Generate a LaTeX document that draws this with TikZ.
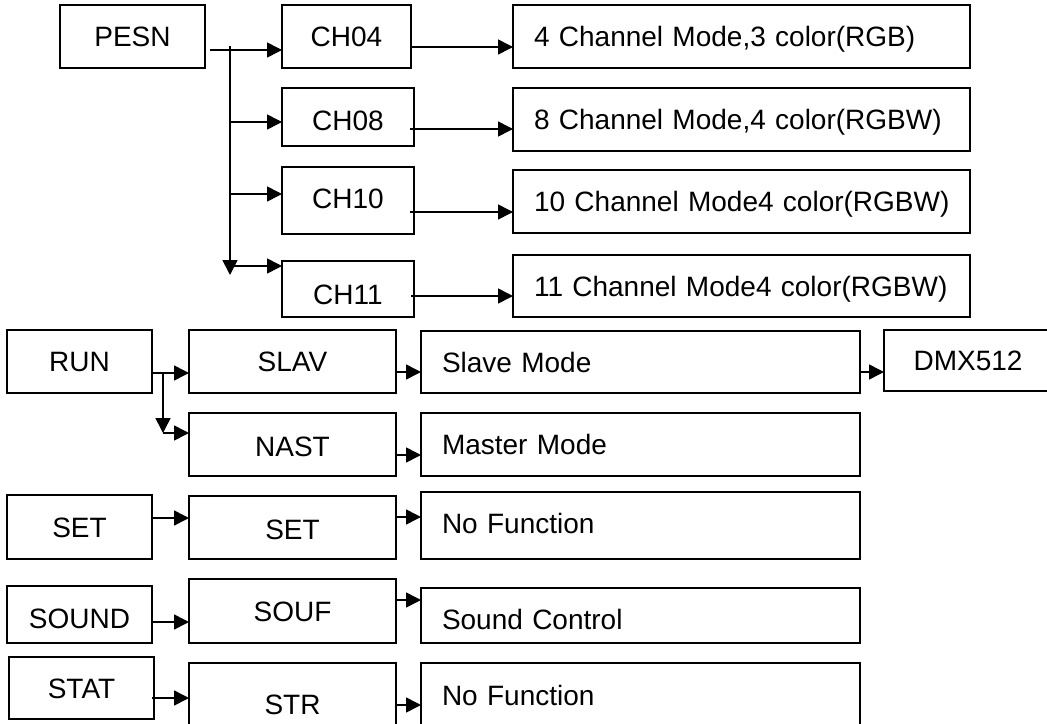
\documentclass[tikz,border=0pt]{standalone}
\usepackage{fontspec}
\setmainfont{Liberation Sans}
\usetikzlibrary{arrows.meta}
\begin{document}
\begin{tikzpicture}[x=1pt,y=-1pt,
  box/.style={draw, line width=1.6pt, inner sep=0pt, outer sep=0pt,
    text height=20pt, text depth=0pt, font=\fontsize{28pt}{34pt}\selectfont},
  lbox/.style={box, align=left, inner xsep=21pt},
  arr/.style={line width=1.6pt, -{Triangle[length=15pt,width=15pt]}},
  ln/.style={line width=1.6pt}]
\useasboundingbox (0,0) rectangle (1047,723);
\clip (0,0) rectangle (1047,723);
% ---- PESN group
\node[box, minimum width=145pt, minimum height=63pt] (PESN) at (132.5,36.5) {PESN};
\node[box, minimum width=129pt, minimum height=63pt] (CH04) at (346.5,36.5) {CH04};
\node[box, minimum width=132pt, minimum height=58pt, text height=26pt] (CH08) at (348,117) {CH08};
\node[box, minimum width=132pt, minimum height=67pt, text depth=5pt] (CH10) at (348,200.5) {CH10};
\node[box, minimum width=132pt, minimum height=56pt, text height=30pt] (CH11) at (348,289) {CH11};
\node[lbox, text width=415pt, minimum height=63pt] (L4) at (741.5,36.5) {\mbox{4 Channel Mode,3 color(RGB)}};
\node[lbox, text width=415pt, minimum height=63pt] (L8) at (741.5,119.5) {\mbox{8 Channel Mode,4 color(RGBW)}};
\node[lbox, text width=415pt, minimum height=63pt] (L10) at (741.5,201.5) {\mbox{10 Channel Mode4 color(RGBW)}};
\node[lbox, text width=415pt, minimum height=62pt] (L11) at (741.5,286) {\mbox{11 Channel Mode4 color(RGBW)}};
% ---- left column
\node[box, minimum width=145pt, minimum height=63pt] (RUN) at (79.5,361.5) {RUN};
\node[box, minimum width=145pt, minimum height=64pt] (SETa) at (79.5,527) {SET};
\node[box, minimum width=145pt, minimum height=57pt, text height=27pt] (SOUND) at (79.5,614.5) {SOUND};
\node[box, minimum width=145pt, minimum height=62pt] (STAT) at (81.5,688) {STAT};
% ---- middle column
\node[box, minimum width=207pt, minimum height=63pt] (SLAV) at (292.5,361.5) {SLAV};
\node[box, minimum width=207pt, minimum height=63pt, text height=24pt] (NAST) at (292.5,444.5) {NAST};
\node[box, minimum width=207pt, minimum height=63pt, text height=24pt] (SETb) at (292.5,527.5) {SET};
\node[box, minimum width=207pt, minimum height=64pt] (SOUF) at (292.5,611) {SOUF};
\node[box, minimum width=207pt, minimum height=82pt] (STR) at (292.5,704) {STR};
% ---- right column
\node[lbox, text width=397pt, minimum height=62pt] (SLM) at (640.5,362) {\mbox{Slave Mode}};
\node[box, minimum width=168pt, minimum height=61pt] (DMX) at (968,360.5) {DMX512};
\node[lbox, text width=397pt, minimum height=63pt] (MAS) at (640.5,444.5) {\mbox{Master Mode}};
\node[lbox, text width=397pt, minimum height=67pt, text depth=5pt] (NF1) at (640.5,525.5) {\mbox{No Function}};
\node[lbox, text width=397pt, minimum height=55pt, text height=27pt] (SC) at (640.5,615.5) {\mbox{Sound Control}};
\node[lbox, text width=397pt, minimum height=82pt, text depth=18pt] (NF2) at (640.5,704) {\mbox{No Function}};
% ---- level coordinates
\coordinate (pt) at (230,46);
\coordinate (pj) at (230,50);
\coordinate (pb) at (230,275);
\coordinate (p8) at (230,122);
\coordinate (p10) at (230,194);
\coordinate (p11) at (230,266);
\coordinate (y47) at (0,47);
\coordinate (y129) at (0,129);
\coordinate (y212) at (0,212);
\coordinate (y296) at (0,296);
\coordinate (rj) at (163,373);
\coordinate (rb) at (163,433);
\coordinate (y518) at (0,518);
\coordinate (y622) at (0,622);
\coordinate (y698) at (0,698);
\coordinate (y372) at (0,372);
\coordinate (y455) at (0,455);
\coordinate (y517) at (0,517);
\coordinate (y600) at (0,600);
\coordinate (y705) at (0,705);
% ---- PESN connectors
\draw[arr] (pt) -- (pb);
\draw[arr] ([xshift=5pt]PESN.east |- pj) -- (CH04.west |- pj);
\draw[arr] (p8) -- (CH08.west |- p8);
\draw[arr] (p10) -- (CH10.west |- p10);
\draw[arr] (p11) -- (CH11.west |- p11);
\draw[arr] (CH04.east |- y47) -- (L4.west |- y47);
\draw[arr] ([xshift=-4pt]CH08.east |- y129) -- (L8.west |- y129);
\draw[arr] ([xshift=-4pt]CH10.east |- y212) -- (L10.west |- y212);
\draw[arr] ([xshift=-3pt]CH11.east |- y296) -- (L11.west |- y296);
% ---- RUN connectors
\draw[arr] (RUN.east |- rj) -- (SLAV.west |- rj);
\draw[arr] (rj) -- (rb);
\draw[arr] (rb) -- (NAST.west |- rb);
\draw[arr] (SLAV.east |- y372) -- (SLM.west |- y372);
\draw[arr] (NAST.east |- y455) -- (MAS.west |- y455);
\draw[arr] (SLM.east |- y372) -- (DMX.west |- y372);
% ---- other rows
\draw[arr] (SETa.east |- y518) -- (SETb.west |- y518);
\draw[arr] (SETb.east |- y517) -- (NF1.west |- y517);
\draw[arr] (SOUND.east |- y622) -- (SOUF.west |- y622);
\draw[arr] (SOUF.east |- y600) -- (SC.west |- y600);
\draw[arr] ([xshift=-2pt]STAT.east |- y698) -- (STR.west |- y698);
\draw[arr] (STR.east |- y705) -- (NF2.west |- y705);
\end{tikzpicture}
\end{document}
